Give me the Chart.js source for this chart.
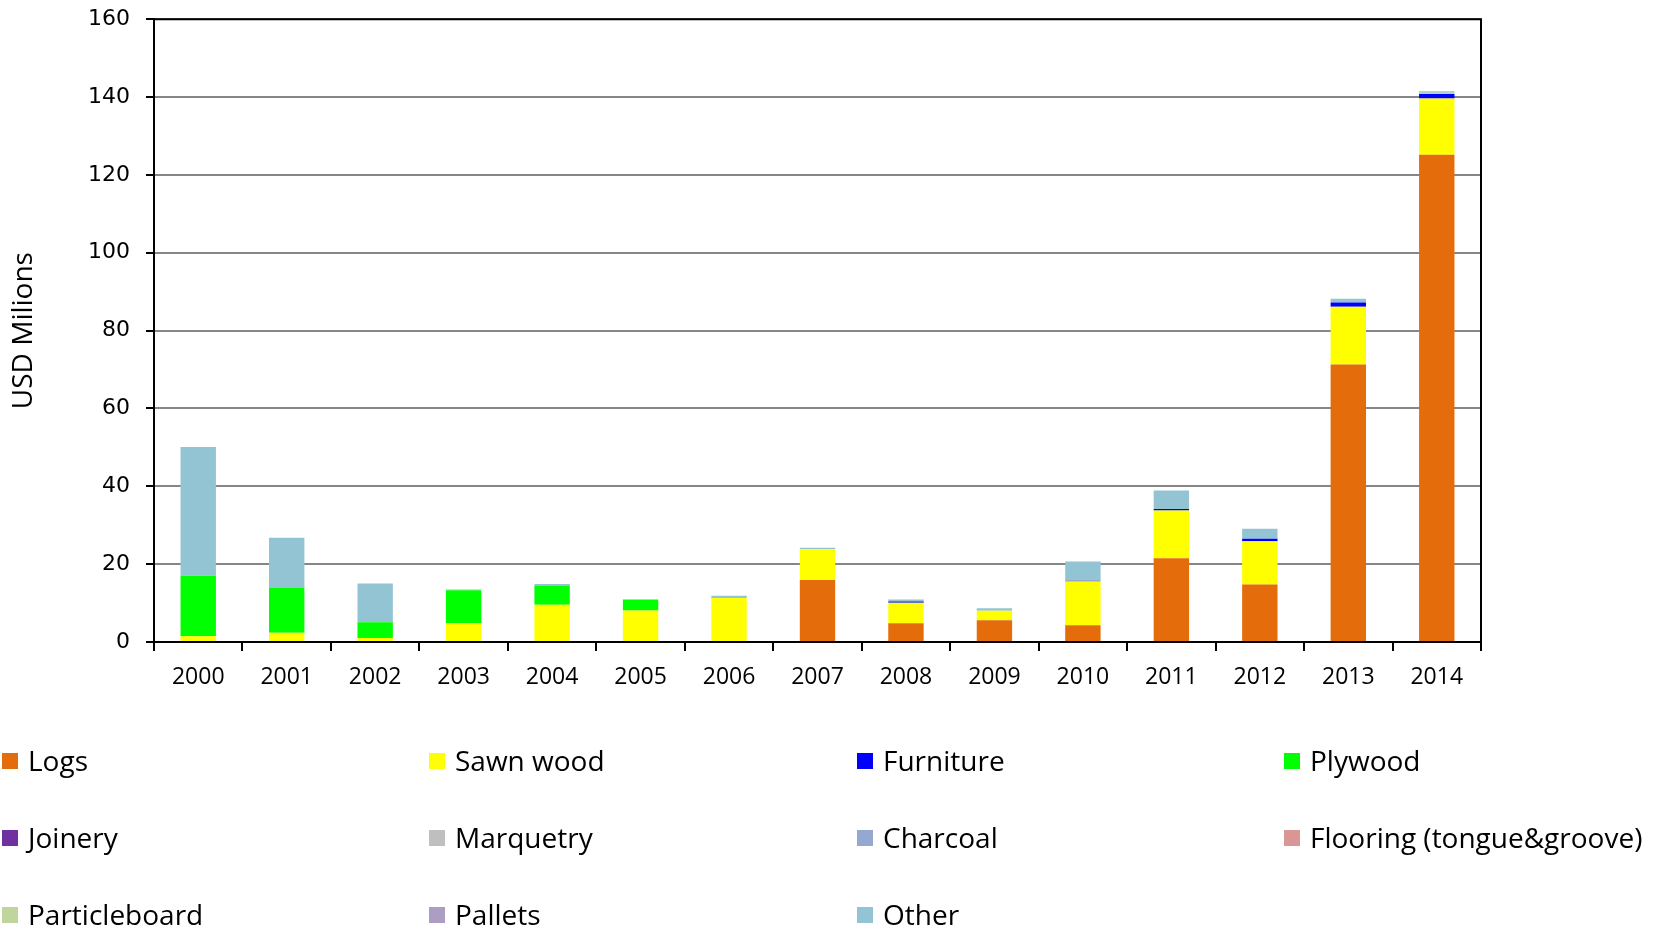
<!DOCTYPE html>
<html>
<head>
<meta charset="utf-8">
<script src="https://cdn.jsdelivr.net/npm/chart.js@4"></script>
<style>
  html, body { margin: 0; padding: 0; background: #fff; }
  body { width: 1661px; height: 931px; position: relative; overflow: hidden; }
  #c { position: absolute; left: 0; top: -10px; }
  .lg { position: absolute; font-family: "Open Sans", sans-serif; font-size: 28px; color: #000; white-space: nowrap; line-height: 1; }
  .lg .sw { position: absolute; left: 0; width: 16px; height: 16px; top: 50%; margin-top: -8px; }
  .lg .tx { position: absolute; left: 26px; top: 50%; transform: translateY(-52%); }
</style>
</head>
<body>
<canvas id="c" width="1661" height="941"></canvas>
<div id="legend"></div>
<script>
// ---- data ----
const years = ["2000","2001","2002","2003","2004","2005","2006","2007","2008","2009","2010","2011","2012","2013","2014"];
const logs          = [0, 0, 0, 0, 0, 0, 0, 15.9, 4.8, 5.6, 4.3, 21.5, 14.8, 71.3, 125.2];
const sawnWood      = [1.5, 2.4, 1.0, 4.8, 9.6, 8.1, 11.3, 7.9, 5.3, 2.4, 11.2, 12.3, 11.1, 14.8, 14.4];
const furniture     = [0, 0, 0, 0, 0, 0, 0, 0, 0.3, 0, 0, 0.4, 0.6, 1.1, 1.2];
const plywood       = [15.5, 11.6, 4.1, 8.5, 4.9, 2.8, 0, 0, 0, 0, 0, 0, 0, 0, 0];
const joinery       = [0, 0, 0, 0, 0, 0, 0, 0, 0, 0, 0, 0, 0, 0, 0];
const marquetry     = [0, 0, 0, 0, 0, 0, 0, 0, 0, 0, 0, 0, 0, 0, 0];
const charcoal      = [0, 0, 0, 0, 0, 0, 0, 0, 0, 0, 0.4, 0, 0, 0, 0];
const flooring      = [0, 0, 0, 0, 0, 0, 0, 0, 0, 0, 0, 0, 0, 0, 0];
const particleboard = [0, 0, 0, 0, 0, 0, 0, 0, 0, 0, 0, 0, 0, 0, 0.3];
const pallets       = [0, 0, 0, 0, 0, 0, 0, 0, 0, 0, 0, 0, 0, 0, 0];
const other         = [33.1, 12.8, 9.9, 0.2, 0.4, 0, 0.6, 0.4, 0.5, 0.7, 4.8, 4.7, 2.6, 1.0, 0.4];

const seriesNames  = ["Logs","Sawn wood","Furniture","Plywood","Joinery","Marquetry","Charcoal","Flooring (tongue&groove)","Particleboard","Pallets","Other"];
const seriesValues = [logs, sawnWood, furniture, plywood, joinery, marquetry, charcoal, flooring, particleboard, pallets, other];
const seriesColors = ["#E46C0A","#FFFF00","#0000FF","#00FF00","#7030A0","#BFBFBF","#95A8D2","#D99694","#C0D59C","#AE9DC3","#93C4D4"];
const yTicks = [0, 20, 40, 60, 80, 100, 120, 140, 160];

const datasets = seriesNames.map((n, i) => ({
  label: n,
  data: seriesValues[i],
  backgroundColor: seriesColors[i],
  borderWidth: 0,
  stack: "s",
  categoryPercentage: 1.0,
  barPercentage: 0.4
}));

const frame = {
  id: "frame",
  afterDraw(chart) {
    const a = chart.chartArea, ctx = chart.ctx;
    ctx.save();
    ctx.strokeStyle = "#000";
    ctx.lineWidth = 2;
    ctx.beginPath();
    ctx.moveTo(a.left, a.top);
    ctx.lineTo(a.right, a.top);
    ctx.lineTo(a.right, a.bottom);
    ctx.stroke();
    ctx.restore();
  }
};

const chart = new Chart(document.getElementById("c"), {
  type: "bar",
  data: { labels: years, datasets },
  options: {
    responsive: false,
    animation: false,
    devicePixelRatio: 1,
    layout: { padding: { left: 0, right: 180, top: 7, bottom: 0 } },
    plugins: { legend: { display: false }, tooltip: { enabled: false } },
    scales: {
      x: {
        stacked: true,
        afterFit(s) { s.height = 941 - 652; },
        grid: { display: true, offset: true, drawOnChartArea: false, drawTicks: true, tickLength: 9, color: "#000", lineWidth: 2 },
        border: { display: true, color: "#000", width: 2 },
        ticks: { color: "#000", font: { family: "Open Sans", size: 23 }, padding: 13, maxRotation: 0 }
      },
      y: {
        stacked: true,
        min: 0, max: 160,
        afterFit(s) { s.width = 154; },
        afterBuildTicks(s) { s.ticks = yTicks.map(v => ({ value: v })); },
        grid: { color: "#868686", lineWidth: 2, tickColor: "#000", tickLength: 8, drawTicks: true },
        border: { display: true, color: "#000", width: 2 },
        ticks: { color: "#000", font: { family: "DejaVu Sans", size: 22 }, padding: 16 },
        title: { display: true, text: "USD Milions", color: "#000", font: { family: "Open Sans", size: 28 }, padding: { top: 7, bottom: 0 } }
      }
    }
  },
  plugins: [frame]
});

// HTML legend in 4 columns, built from the chart's datasets
const colX = [2, 429, 857, 1284];
const rowY = [761, 838, 915];
const lg = document.getElementById("legend");
chart.data.datasets.forEach((ds, i) => {
  const d = document.createElement("div");
  d.className = "lg";
  d.style.left = colX[i % 4] + "px";
  d.style.top = (rowY[Math.floor(i / 4)] - 20) + "px";
  d.style.height = "40px";
  d.style.width = "420px";
  const sw = document.createElement("span");
  sw.className = "sw";
  sw.style.background = ds.backgroundColor;
  const tx = document.createElement("span");
  tx.className = "tx";
  tx.textContent = ds.label;
  d.appendChild(sw); d.appendChild(tx);
  lg.appendChild(d);
});
</script>
</body>
</html>
